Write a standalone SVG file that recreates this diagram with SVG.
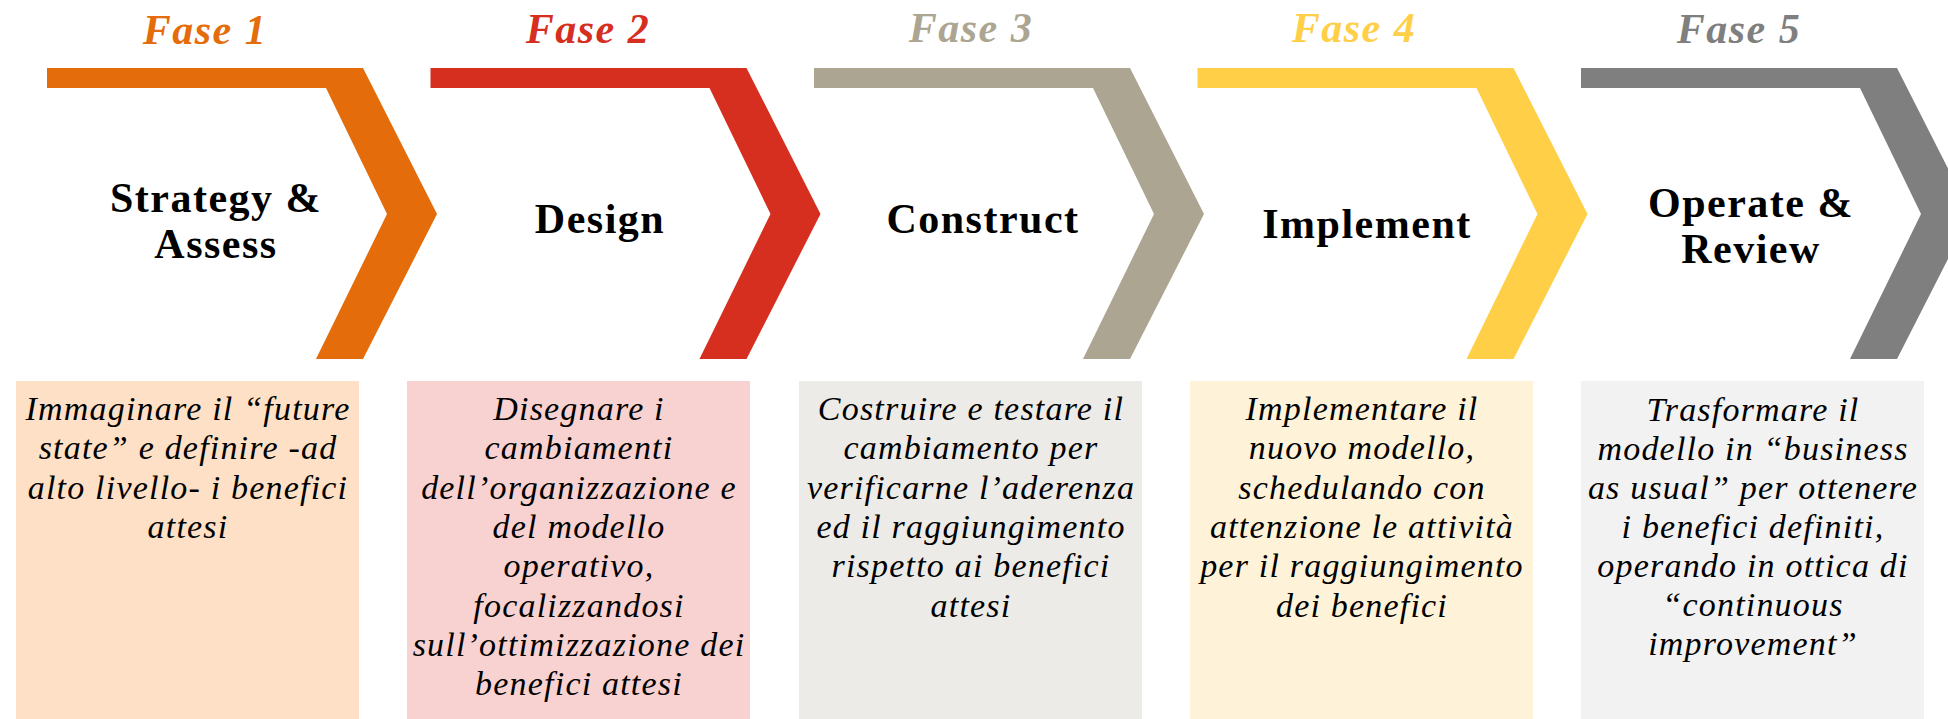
<svg xmlns="http://www.w3.org/2000/svg" width="1948" height="719" viewBox="0 0 1948 719">
<style>
.fase{font-family:"Liberation Serif","Times New Roman",serif;font-weight:bold;font-style:italic;font-size:42px;letter-spacing:1.5px;text-anchor:middle}
.title{font-family:"Liberation Serif","Times New Roman",serif;font-weight:bold;font-size:42px;letter-spacing:1.5px;text-anchor:middle;fill:#000}
.desc{font-family:"Liberation Serif","Times New Roman",serif;font-style:italic;font-size:34px;letter-spacing:1.2px;text-anchor:middle;fill:#000}
</style>
<defs>
<polygon id="chev" points="47,68 363,68 437,214 363,359 316,359 387,214 326,88 47,88"/>
</defs>
<rect width="1948" height="719" fill="#fff"/>
<g id="connectors"></g>

<g id="fase1">
<use href="#chev" fill="#E46C0A"/>
<text class="fase" x="205" y="44" fill="#E46C0A">Fase 1</text>
<text class="title" x="216" y="212">Strategy &amp;</text>
<text class="title" x="216" y="258">Assess</text>
<rect x="16" y="381" width="343" height="338" fill="#FDE0C5"/>
<text class="desc" x="188" y="420">Immaginare il “future</text>
<text class="desc" x="188" y="459.3">state” e definire -ad</text>
<text class="desc" x="188" y="498.6">alto livello- i benefici</text>
<text class="desc" x="188" y="537.9">attesi</text>
</g>

<g id="fase2">
<use href="#chev" fill="#D62E1F" transform="translate(383.5,0)"/>
<text class="fase" x="588" y="43" fill="#D62E1F">Fase 2</text>
<text class="title" x="600" y="233">Design</text>
<rect x="407" y="381" width="343" height="338" fill="#F8D2D0"/>
<text class="desc" x="579" y="420">Disegnare i</text>
<text class="desc" x="579" y="459.3">cambiamenti</text>
<text class="desc" x="579" y="498.6">dell’organizzazione e</text>
<text class="desc" x="579" y="537.9">del modello</text>
<text class="desc" x="579" y="577.2">operativo,</text>
<text class="desc" x="579" y="616.5">focalizzandosi</text>
<text class="desc" x="579" y="655.8">sull’ottimizzazione dei</text>
<text class="desc" x="579" y="695.1">benefici attesi</text>
</g>

<g id="fase3">
<use href="#chev" fill="#ABA591" transform="translate(767,0)"/>
<text class="fase" x="971" y="42" fill="#ABA591">Fase 3</text>
<text class="title" x="983" y="233">Construct</text>
<rect x="799" y="381" width="343" height="338" fill="#EDEBE7"/>
<text class="desc" x="971" y="420">Costruire e testare il</text>
<text class="desc" x="971" y="459.3">cambiamento per</text>
<text class="desc" x="971" y="498.6">verificarne l’aderenza</text>
<text class="desc" x="971" y="537.9">ed il raggiungimento</text>
<text class="desc" x="971" y="577.2">rispetto ai benefici</text>
<text class="desc" x="971" y="616.5">attesi</text>
</g>

<g id="fase4">
<use href="#chev" fill="#FFCF48" transform="translate(1150.5,0)"/>
<text class="fase" x="1354" y="42" fill="#FFCF48">Fase 4</text>
<text class="title" x="1367" y="238">Implement</text>
<rect x="1190" y="381" width="343" height="338" fill="#FEF3D8"/>
<text class="desc" x="1362" y="420">Implementare il</text>
<text class="desc" x="1362" y="459.3">nuovo modello,</text>
<text class="desc" x="1362" y="498.6">schedulando con</text>
<text class="desc" x="1362" y="537.9">attenzione le attività</text>
<text class="desc" x="1362" y="577.2">per il raggiungimento</text>
<text class="desc" x="1362" y="616.5">dei benefici</text>
</g>

<g id="fase5">
<use href="#chev" fill="#7F7F7F" transform="translate(1534,0)"/>
<text class="fase" x="1739" y="43" fill="#7F7F7F">Fase 5</text>
<text class="title" x="1751" y="217">Operate &amp;</text>
<text class="title" x="1751" y="263">Review</text>
<rect x="1581" y="381" width="343" height="338" fill="#F2F2F2"/>
<text class="desc" x="1753" y="421">Trasformare il</text>
<text class="desc" x="1753" y="460">modello in “business</text>
<text class="desc" x="1753" y="499">as usual” per ottenere</text>
<text class="desc" x="1753" y="538">i benefici definiti,</text>
<text class="desc" x="1753" y="577">operando in ottica di</text>
<text class="desc" x="1753" y="616">“continuous</text>
<text class="desc" x="1753" y="655">improvement”</text>
</g>
</svg>
